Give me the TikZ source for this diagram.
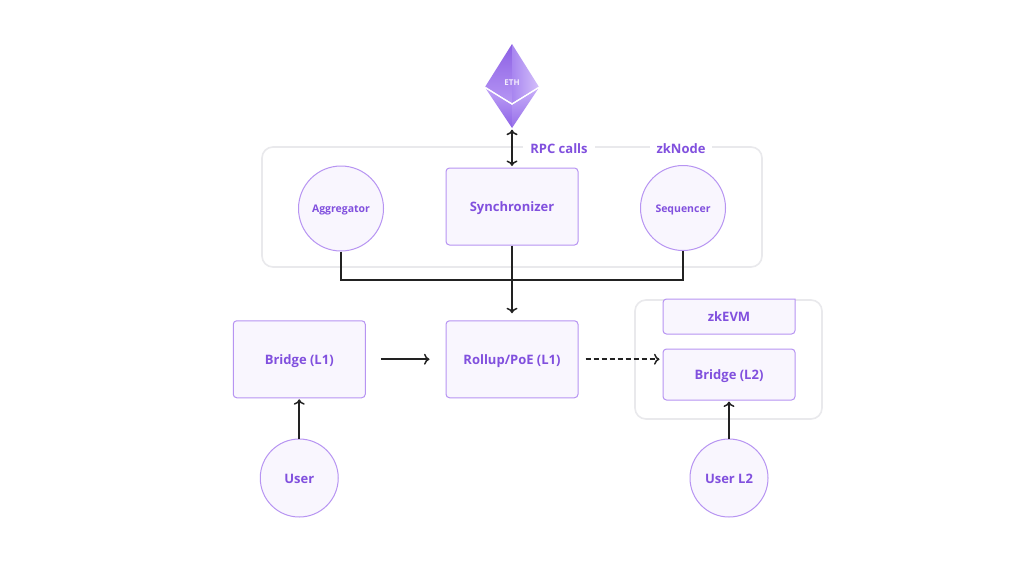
\documentclass[tikz,border=0pt]{standalone}
\usepackage{fontspec}
\setmainfont{Open Sans}
\usetikzlibrary{arrows.meta,calc}
\definecolor{txtp}{HTML}{8150DE}
\definecolor{fillp}{HTML}{F9F6FE}
\definecolor{linep}{HTML}{B794F2}
\definecolor{frameg}{HTML}{E9E9EC}
\definecolor{conn}{HTML}{222222}
\tikzset{
  x=1pt,y=-1pt,
  bigt/.style={font=\fontsize{13}{15}\selectfont\bfseries,text height=12pt,text depth=2pt},
  smallt/.style={font=\fontsize{10.5}{12}\selectfont\bfseries,text height=10pt,text depth=2pt},
  boxn/.style={draw=linep,fill=fillp,line width=1pt,rounded corners=3.5pt,text=txtp,bigt,inner sep=0pt,anchor=center},
  circn/.style={draw=linep,fill=fillp,line width=1pt,circle,text=txtp,inner sep=0pt,anchor=center,bigt},
  framen/.style={draw=frameg,line width=1.6pt,rounded corners=11pt},
  lbl/.style={fill=white,text=txtp,bigt,inner sep=0pt},
  conl/.style={draw=conn,line width=1.6pt},
  arr/.style={conl,-{To[length=5.5pt,width=11pt,line width=1.5pt]}},
  darr/.style={conl,{To[length=5.5pt,width=11pt,line width=1.5pt]}-{To[length=5.5pt,width=11pt,line width=1.5pt]}},
}
\begin{document}
\begin{tikzpicture}
\useasboundingbox[fill=white] (0,0) rectangle (1024,576);
% frames
\draw[framen] (262,147) rectangle (762,267);
\draw[framen] (635,300) rectangle (822,419);
% ETH diamond
\shade[top color={rgb,255:red,140;green,96;blue,228},bottom color={rgb,255:red,182;green,150;blue,244}] (512,44) -- (485,87) -- (512,103) -- cycle;
\shade[left color={rgb,255:red,168;green,134;blue,240},right color={rgb,255:red,212;green,192;blue,250}] (512,44) -- (539,87) -- (512,103) -- cycle;
\shade[top color={rgb,255:red,190;green,160;blue,246},bottom color={rgb,255:red,140;green,98;blue,230}] (486,89) -- (512,105) -- (512,128) -- cycle;
\shade[top color={rgb,255:red,198;green,172;blue,248},bottom color={rgb,255:red,150;green,110;blue,233}] (538,89) -- (512,105) -- (512,128) -- cycle;
\draw[white,line width=1pt] (485,87) -- (512,104) -- (539,87);
\node[inner sep=0pt,minimum width=54pt,minimum height=84pt,text=white!90!txtp,font=\fontsize{8}{9}\selectfont\bfseries] (eth) at (512,86) {\raisebox{7pt}{ETH}};
% labels on frame
\node[lbl,minimum width=72pt] (rpc) at (559,148) {RPC calls};
\node[lbl,minimum width=62pt] (zkn) at (681,148) {zkNode};
% nodes
\node[boxn,minimum width=132pt,minimum height=77pt] (sync) at (512,206.5) {Synchronizer};
\node[circn,minimum size=85pt,smallt] (agg) at (341,208.5) {Aggregator};
\node[circn,minimum size=85pt,smallt] (seq) at (683,208) {Sequencer};
\node[boxn,minimum width=132pt,minimum height=77pt] (bl1) at (299.25,359.25) {Bridge (L1)};
\node[boxn,minimum width=132pt,minimum height=77pt] (roll) at (512,359.25) {Rollup/PoE (L1)};
\node[boxn,minimum width=132pt,minimum height=51pt] (bl2) at (729,374.5) {Bridge (L2)};
% zkEVM: square top, rounded bottom
\coordinate (znw) at (663,299);
\coordinate (zse) at (795,334);
\filldraw[draw=linep,fill=fillp,line width=1pt,rounded corners=3.5pt]
  (znw) [sharp corners] -- (znw -| zse) [rounded corners=3.5pt] -- (zse) -- (zse -| znw) -- cycle;
\node[text=txtp,bigt,inner sep=0pt,minimum width=132pt,minimum height=35pt] (zkevm) at ($(znw)!.5!(zse)$) {zkEVM};
\node[circn,minimum size=78pt] (usr) at (299.25,478) {User};
\node[circn,minimum size=78pt] (usr2) at (729,478) {User L2};
% connectors
\draw[darr,shorten <=1.5pt,shorten >=1.5pt] (eth.south) -- (sync.north);
\draw[conl] (agg.south) |- (512,280) -| (seq.south);
\draw[arr,shorten >=7pt] (sync.south) -- (roll.north);
\draw[arr,shorten <=15pt,shorten >=16pt] (bl1.east) -- (roll.west);
\draw[arr,dash pattern=on 5pt off 3pt,shorten <=7pt,shorten >=3pt] (roll.east) -- (roll.east -| bl2.west);
\draw[arr,shorten >=1pt] (usr.north) -- (bl1.south);
\draw[arr,shorten >=1pt] (usr2.north) -- (bl2.south);
\end{tikzpicture}
\end{document}
